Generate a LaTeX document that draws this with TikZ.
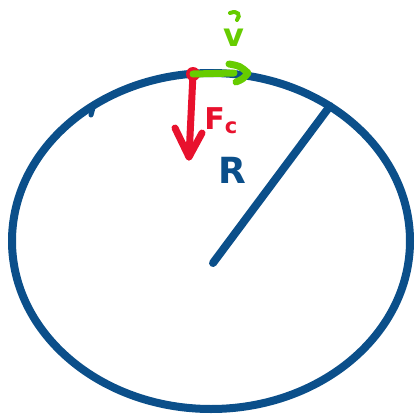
\documentclass[tikz,border=0pt]{standalone}
\usepackage{fontspec}
\setsansfont{DejaVu Sans}
\definecolor{pblue}{HTML}{0B4F8A}
\definecolor{pred}{HTML}{E8112D}
\definecolor{pgreen}{HTML}{66CC00}
\begin{document}
\begin{tikzpicture}[x=1pt,y=-1pt,
  pen/.style={line width=8pt,line cap=round,line join=round},
  lbl/.style={font=\sffamily\bfseries\fontsize{30}{30}\selectfont,inner sep=0pt}]
\useasboundingbox (0,0) rectangle (415,416);
% circle
\draw[pen,pblue] (211,241) ellipse [x radius=199, y radius=168];
\draw[pen,pblue,line width=5pt] (91,115) -- (94,104);
% radius
\coordinate (c) at (213,263);
\coordinate (p) at (330,106);
\draw[pen,pblue] (c) -- (p);
\node[lbl,text=pblue,font=\sffamily\bfseries\fontsize{36}{36}\selectfont] (R) at (232,170) {R};
% force
\coordinate (top) at (193,74);
\coordinate (fend) at (189,157);
\fill[pred] (top) circle (7);
\draw[pen,pred,line width=7pt] (top) -- (fend);
\draw[pen,pred,line width=7pt] (175,128) -- (fend) -- (202,133);
\node[lbl,text=pred] (Fc) at (221,121) {F\textsubscript{c}};
% velocity
\coordinate (vend) at (248,73);
\draw[pen,pgreen,line width=7pt] (top) -- (234,73);
\draw[pen,pgreen,line width=7pt] (229,64) .. controls (240,66) .. (vend) .. controls (243,79) .. (236,82);
\node[lbl,text=pgreen,font=\sffamily\bfseries\fontsize{32}{32}\selectfont] (v) at (234,38) {v};
\draw[pgreen,line width=4pt,line cap=round] (230,13) .. controls (238,10) and (241,15) .. (237,20);
\end{tikzpicture}
\end{document}
